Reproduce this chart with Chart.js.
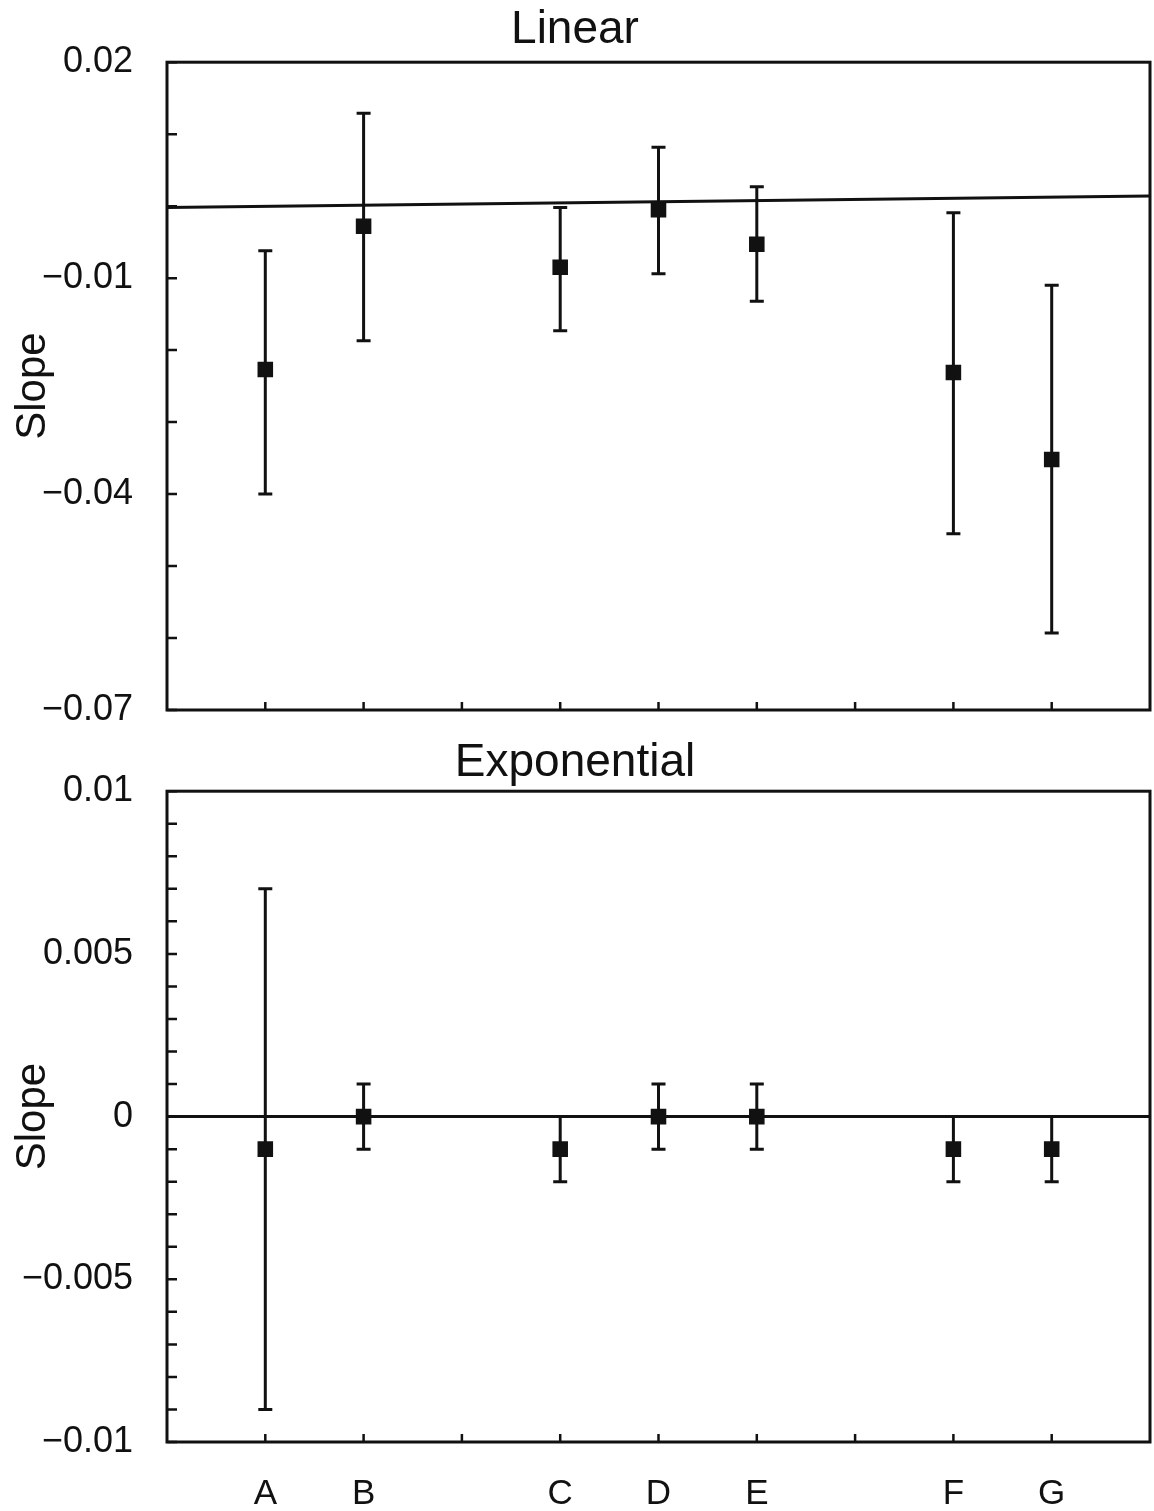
<!DOCTYPE html>
<html>
<head>
<meta charset="utf-8">
<script src="https://cdn.jsdelivr.net/npm/chart.js@4.4.0/dist/chart.umd.min.js"></script>
<style>
  html, body { margin: 0; background: #fff; overflow: hidden; }
  canvas { position: absolute; left: 0; }
</style>
</head>
<body>
<canvas id="linear" width="1154" height="730" style="top:0"></canvas>
<canvas id="expo" width="1154" height="781" style="top:730px"></canvas>
<script>
// categories and where they sit on the x axis
const categories = ['A', 'B', 'C', 'D', 'E', 'F', 'G'];
const catPos = [1, 2, 4, 5, 6, 8, 9];

// Linear panel
const linSlope = [-0.0227, -0.0028, -0.0085, -0.0005, -0.0053, -0.0231, -0.0352];
const linLow   = [-0.0400, -0.0187, -0.0173, -0.0094, -0.0132, -0.0455, -0.0593];
const linHigh  = [-0.0062,  0.0129, -0.0002,  0.0082,  0.0027, -0.0009, -0.0110];
const linRefLine = [-0.0002, 0.0014]; // at x = 0 and x = 10
const linTickLabels = ['0.02', '−0.01', '−0.04', '−0.07'];
const linTickValues = [0.02, -0.01, -0.04, -0.07];

// Exponential panel
const expSlope = [-0.001, 0, -0.001, 0, 0, -0.001, -0.001];
const expLow   = [-0.009, -0.001, -0.002, -0.001, -0.001, -0.002, -0.002];
const expHigh  = [ 0.007,  0.001,  0,      0.001,  0.001,  0,      0    ];
const expRefLine = [0, 0];
const expTickLabels = ['0.01', '0.005', '0', '−0.005', '−0.01'];
const expTickValues = [0.01, 0.005, 0, -0.005, -0.01];

const FONT = "'Liberation Sans', Arial, sans-serif";
const INK = '#111';

// error bars, inward ticks and the box frame
const panelDecor = {
    id: 'panelDecor',
    beforeDatasetsDraw(chart) {
        const ctx = chart.ctx;
        const xs = chart.scales.x, ys = chart.scales.y;
        const bars = chart.options.plugins.panelDecor;
        ctx.save();
        ctx.strokeStyle = INK;
        ctx.lineWidth = 3;
        for (let i = 0; i < catPos.length; i++) {
            const px = xs.getPixelForValue(catPos[i]);
            const lo = ys.getPixelForValue(bars.low[i]);
            const hi = ys.getPixelForValue(bars.high[i]);
            ctx.beginPath();
            ctx.moveTo(px, lo); ctx.lineTo(px, hi);
            ctx.moveTo(px - 7, lo); ctx.lineTo(px + 7, lo);
            ctx.moveTo(px - 7, hi); ctx.lineTo(px + 7, hi);
            ctx.stroke();
        }
        ctx.restore();
    },
    afterDraw(chart) {
        const ctx = chart.ctx;
        const a = chart.chartArea;
        const xs = chart.scales.x, ys = chart.scales.y;
        ctx.save();
        ctx.strokeStyle = INK;
        ctx.lineWidth = 3;
        ctx.strokeRect(a.left, a.top, a.right - a.left, a.bottom - a.top);
        ctx.lineWidth = 2.5;
        ctx.beginPath();
        ys.ticks.forEach(t => {
            const py = ys.getPixelForValue(t.value);
            ctx.moveTo(a.left, py); ctx.lineTo(a.left + 10, py);
        });
        xs.ticks.forEach(t => {
            if (t.value <= xs.min || t.value >= xs.max) return;
            const px = xs.getPixelForValue(t.value);
            ctx.moveTo(px, a.bottom); ctx.lineTo(px, a.bottom - 8);
        });
        ctx.stroke();
        ctx.restore();
    }
};

function makePanel(id, opt) {
    const points = catPos.map((x, i) => ({ x: x, y: opt.slope[i] }));
    const line = [{ x: 0, y: opt.refLine[0] }, { x: 10, y: opt.refLine[1] }];

    return new Chart(document.getElementById(id), {
        type: 'scatter',
        data: {
            datasets: [{
                data: points,
                pointStyle: 'rect',
                pointRadius: 11,
                backgroundColor: INK,
                borderColor: INK,
                borderWidth: 0
            }, {
                type: 'line',
                data: line,
                borderColor: INK,
                borderWidth: 3,
                pointRadius: 0,
                fill: false
            }]
        },
        options: {
            responsive: false,
            animation: false,
            layout: { autoPadding: false, padding: { left: 0, right: 4, top: 0, bottom: 0 } },
            plugins: {
                legend: { display: false },
                tooltip: { enabled: false },
                title: {
                    display: true,
                    text: opt.title,
                    color: INK,
                    font: { family: FONT, size: 46, weight: 'normal' },
                    padding: opt.titlePad
                },
                panelDecor: { low: opt.low, high: opt.high }
            },
            scales: {
                x: {
                    type: 'linear',
                    min: 0,
                    max: 10,
                    grid: { display: false },
                    border: { display: false },
                    ticks: {
                        stepSize: 1,
                        autoSkip: false,
                        maxRotation: 0,
                        padding: 23,
                        color: INK,
                        font: { family: FONT, size: 35 },
                        callback: v => {
                            const k = catPos.indexOf(v);
                            return (opt.showX && k >= 0) ? categories[k] : '';
                        }
                    },
                    afterFit: s => {
                        s.height = opt.xHeight;
                        s.paddingLeft = 0;
                        s.paddingRight = 0;
                    }
                },
                y: {
                    min: opt.min,
                    max: opt.max,
                    grid: { display: false },
                    border: { display: false },
                    title: {
                        display: true,
                        text: 'Slope',
                        color: INK,
                        font: { family: FONT, size: 42 },
                        padding: { top: 8, bottom: 0 }
                    },
                    ticks: {
                        count: opt.count,
                        autoSkip: false,
                        padding: 26,
                        color: INK,
                        font: { family: FONT, size: 36 },
                        callback: v => {
                            const k = opt.tickValues.findIndex(t => Math.abs(t - v) < 1e-7);
                            return k >= 0 ? opt.tickLabels[k] : '';
                        }
                    },
                    afterFit: s => {
                        s.width = 167;
                        s.paddingTop = 0;
                        s.paddingBottom = 0;
                    }
                }
            }
        },
        plugins: [panelDecor]
    });
}

makePanel('linear', {
    title: 'Linear',
    titlePad: { top: 3, bottom: 4 },
    slope: linSlope, low: linLow, high: linHigh, refLine: linRefLine,
    min: -0.07, max: 0.02, count: 10,
    tickValues: linTickValues, tickLabels: linTickLabels,
    showX: false, xHeight: 20
});

makePanel('expo', {
    title: 'Exponential',
    titlePad: { top: 6, bottom: 0 },
    slope: expSlope, low: expLow, high: expHigh, refLine: expRefLine,
    min: -0.01, max: 0.01, count: 21,
    tickValues: expTickValues, tickLabels: expTickLabels,
    showX: true, xHeight: 69
});
</script>
</body>
</html>
